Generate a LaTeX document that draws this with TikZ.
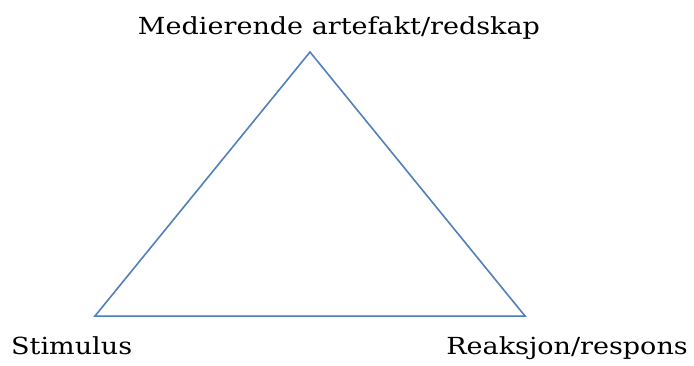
\documentclass[tikz,border=0pt]{standalone}
\usepackage{fontspec}
\setmainfont{DejaVu Serif}[FakeStretch=1.15]
\usepackage{xcolor}
\definecolor{triblue}{HTML}{4F81BD}
\tikzset{
  cornerlabel/.style={inner sep=0pt, font=\fontsize{23.5}{27}\selectfont},
  triside/.style={draw=triblue, line width=1.5pt, line join=miter},
  trishadow/.style={draw=black!12, line width=1.8pt}
}
\begin{document}
\begin{tikzpicture}[x=1pt, y=-1pt]
\useasboundingbox (0,0) rectangle (694,365);
% corners of the triangle
\coordinate (top) at (310,52);
\coordinate (left) at (95,316);
\coordinate (right) at (525,316);
\draw[trishadow, shift={(1,2)}] (top) -- (right) -- (left) -- cycle;
\draw[triside] (top) -- (right) -- (left) -- cycle;
% labels
\node[cornerlabel, anchor=base] (mediator) at (339,34) {Medierende artefakt/redskap};
\node[cornerlabel, anchor=base west] (stimulus) at (11,354) {Stimulus};
\node[cornerlabel, anchor=base east] (response) at (688,354) {Reaksjon/respons};
\end{tikzpicture}
\end{document}
